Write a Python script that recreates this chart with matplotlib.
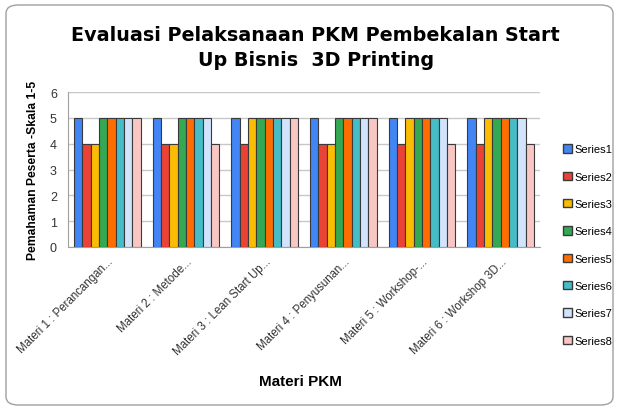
import numpy as np
import matplotlib
matplotlib.use("Agg")
import matplotlib.pyplot as plt
from matplotlib.patches import FancyBboxPatch, Patch

categories = ["Materi 1 : Perancangan...", "Materi 2 : Metode...",
              "Materi 3 : Lean Start Up...", "Materi 4 : Penyusunan...",
              "Materi 5 : Workshop-...", "Materi 6 : Workshop 3D..."]
series_names = ["Series1", "Series2", "Series3", "Series4",
                "Series5", "Series6", "Series7", "Series8"]
series1 = [5, 5, 5, 5, 5, 5]
series2 = [4, 4, 4, 4, 4, 4]
series3 = [4, 4, 5, 4, 5, 5]
series4 = [5, 5, 5, 5, 5, 5]
series5 = [5, 5, 5, 5, 5, 5]
series6 = [5, 5, 5, 5, 5, 5]
series7 = [5, 5, 5, 5, 5, 5]
series8 = [5, 4, 5, 5, 4, 4]
colors = ["#4285F4", "#EA4335", "#FBBC04", "#34A853",
          "#FF6D01", "#46BDC6", "#D2E3FC", "#F8C7C4"]

all_series = [series1, series2, series3, series4, series5, series6, series7, series8]

plt.rcParams['font.family'] = ['Liberation Sans', 'DejaVu Sans']

fig = plt.figure(figsize=(6.19, 4.10), dpi=100)
ax = fig.add_axes([68 / 619, 1 - 248 / 410, 472 / 619, 155 / 410])

# rounded border around the whole chart
border = FancyBboxPatch((6 / 619, 4 / 410), 607 / 619, 400 / 410,
                        boxstyle="round,pad=0,rounding_size=0.02",
                        transform=fig.transFigure, facecolor="none",
                        edgecolor="#A0A0A0", linewidth=1)
fig.patches.append(border)

x = np.arange(len(categories))
bw = 0.85 / 8
for i, vals in enumerate(all_series):
    ax.bar(x - 0.425 + bw * (i + 0.5), vals, bw, color=colors[i],
           edgecolor="#3a3a3a", linewidth=0.8, label=series_names[i], zorder=3)

ax.set_xlim(-0.5, len(categories) - 0.5)
ax.set_ylim(0, 6)
ax.set_yticks(range(0, 7))
ax.yaxis.grid(True, color="#C8C8C8", linewidth=1, zorder=0)
for s in ["top", "right"]:
    ax.spines[s].set_visible(False)
ax.spines["left"].set_color("#A0A0A0")
ax.spines["bottom"].set_color("#A0A0A0")
ax.tick_params(axis="both", length=0, labelsize=9, labelcolor="#333333")
ax.tick_params(axis="y", pad=8)
ax.tick_params(axis="x", pad=6)
ax.set_xticks(x)
ax.set_xticklabels(categories, rotation=45, ha="right", rotation_mode="anchor", fontsize=8.3)

ax.set_ylabel("Pemahaman Peserta -Skala 1-5", fontsize=8.7, fontweight="bold", labelpad=8)
fig.text(0.485, 1 - 382 / 410, "Materi PKM", ha="center", va="center",
         fontsize=11, fontweight="bold")

fig.text(0.510, 1 - 48 / 410, "Evaluasi Pelaksanaan PKM Pembekalan Start\nUp Bisnis  3D Printing",
         ha="center", va="center", fontsize=13.8, fontweight="bold", linespacing=1.45,
         family="DejaVu Sans")

handles = [Patch(facecolor=colors[i], edgecolor="#3a3a3a", label=series_names[i])
           for i in range(8)]
fig.legend(handles=handles, loc="center left", bbox_to_anchor=(553 / 619, 1 - 246 / 410),
           frameon=False, fontsize=8, handlelength=0.8, handleheight=0.8,
           handletextpad=0.25, labelspacing=1.55)

plt.savefig("out.png", dpi=100)
